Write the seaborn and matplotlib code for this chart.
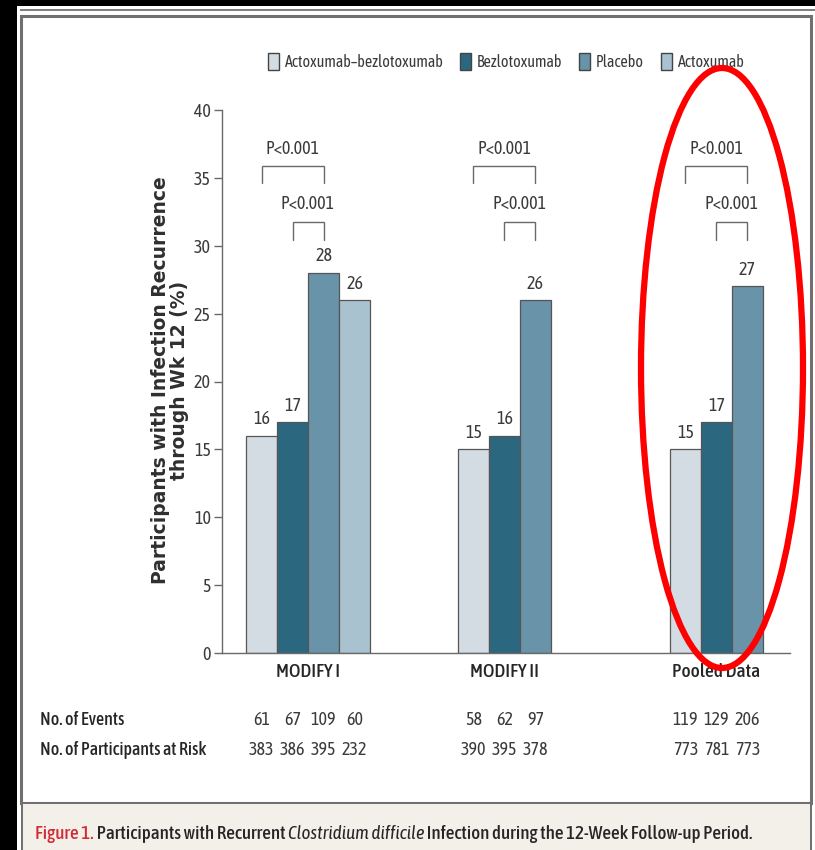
import numpy as np
import pandas as pd
import seaborn as sns
import matplotlib
matplotlib.use("Agg")
import matplotlib.pyplot as plt
from matplotlib.patches import Rectangle, Ellipse
from matplotlib.transforms import blended_transform_factory

# ---- data -------------------------------------------------------------
groups = ["MODIFY I", "MODIFY II", "Pooled Data"]
treatments = ["Actoxumab\u2013bezlotoxumab", "Bezlotoxumab", "Placebo", "Actoxumab"]

recurrence_modify1 = [16, 17, 28, 26]
recurrence_modify2 = [15, 16, 26]
recurrence_pooled = [15, 17, 27]

events_modify1 = [61, 67, 109, 60]
events_modify2 = [58, 62, 97]
events_pooled = [119, 129, 206]

at_risk_modify1 = [383, 386, 395, 232]
at_risk_modify2 = [390, 395, 378]
at_risk_pooled = [773, 781, 773]

y_ticks = [0, 5, 10, 15, 20, 25, 30, 35, 40]

colors = ["#d4dce3", "#2c6780", "#6893a8", "#a9c2d0"]

recurrence = [recurrence_modify1, recurrence_modify2, recurrence_pooled]
events = [events_modify1, events_modify2, events_pooled]
at_risk = [at_risk_modify1, at_risk_modify2, at_risk_pooled]

rows = []
for g, vals, ev, rk in zip(groups, recurrence, events, at_risk):
    for t, v, e, r in zip(treatments, vals, ev, rk):
        rows.append({"study": g, "treatment": t, "pct": v, "events": e, "at_risk": r})
df = pd.DataFrame(rows)

# ---- style ------------------------------------------------------------
sns.set_theme(style="white")
NARROW = ["Asap Condensed", "DejaVu Sans"]
plt.rcParams["font.family"] = NARROW
TXT = "#3a3a3a"
DARK = "#262626"
FS = 13

W, H = 815, 850
fig = plt.figure(figsize=(W / 100, H / 100), dpi=100)
fig.patch.set_facecolor("black")


def fx(px):
    return px / W


def fy(py):
    return 1 - py / H


def frect(x0, y0, x1, y1, **kw):
    fig.patches.append(Rectangle((fx(x0), fy(y1)), fx(x1) - fx(x0), fy(y0) - fy(y1),
                                 transform=fig.transFigure, zorder=-5, **kw))


# page frame
frect(17, 6, 815, 850, facecolor="white", edgecolor="none")
frect(20, 8.5, 815, 10.5, facecolor="#808080", edgecolor="none")
frect(21, 15.5, 811, 803, facecolor="white", edgecolor="#707070", linewidth=2.2)
frect(22, 803, 811, 850, facecolor="#f3f0ea", edgecolor="none")
frect(21, 801.5, 811, 804, facecolor="#707070", edgecolor="none")
frect(21, 803, 23, 850, facecolor="#707070", edgecolor="none")
frect(810, 803, 812, 850, facecolor="#707070", edgecolor="none")

# ---- axes -------------------------------------------------------------
ax = fig.add_axes([fx(222), fy(653), fx(790) - fx(222), fy(110) - fy(653)])
ax.set_facecolor("none")

sns.barplot(data=df, x="study", y="pct", hue="treatment", order=groups,
            hue_order=treatments, palette=colors, saturation=1, width=0.585,
            dodge=True, edgecolor="#555555", linewidth=0.9, errorbar=None,
            legend=False, ax=ax)

ax.set_xlim(-0.406, 2.274)
ax.set_ylim(0, 40)
ax.set_yticks(y_ticks)
ax.set_yticklabels([str(t) for t in y_ticks], fontsize=FS, color=TXT)
ax.set_xlabel("")
ax.set_ylabel("")
for s in ["top", "right"]:
    ax.spines[s].set_visible(False)
for s in ["left", "bottom"]:
    ax.spines[s].set_color("#6a6a6a")
    ax.spines[s].set_linewidth(1.0)
ax.tick_params(axis="y", length=6, width=1, color="#6a6a6a", pad=2, left=True)
ax.tick_params(axis="x", length=0)

# centres of the drawn bars, keyed by (study, treatment)
centers = {}
for t, cont in zip(treatments, ax.containers):
    for bar in cont:
        if bar.get_height() == 0 and bar.get_width() == 0:
            continue
        cx = bar.get_x() + bar.get_width() / 2
        centers[(groups[int(round(cx))], t)] = cx

# group labels below the axis, centred on each cluster
label_x = []
for g, vals in zip(groups, recurrence):
    xs = [centers[(g, t)] for t in treatments[:len(vals)]]
    label_x.append(np.mean(xs))
ax.set_xticks(label_x)
ax.set_xticklabels(groups, fontsize=14, color=DARK, fontweight="medium")
ax.tick_params(axis="x", pad=7)

# value labels
for g, vals in zip(groups, recurrence):
    for t, v in zip(treatments, vals):
        ax.text(centers[(g, t)], v + 0.55, str(v), ha="center", va="bottom",
                fontsize=FS, color=TXT)

# significance brackets
for g in groups:
    a, b, p = centers[(g, treatments[0])], centers[(g, treatments[1])], centers[(g, treatments[2])]
    for x0, top, low, ty in [(a, 35.85, 34.6, 36.5), (b, 31.75, 30.45, 32.4)]:
        ax.plot([x0, x0, p, p], [low, top, top, low], color="#6a6a6a", lw=1.0,
                solid_joinstyle="miter", clip_on=False)
        ax.text((x0 + p) / 2, ty, "P<0.001", ha="center", va="bottom",
                fontsize=FS, color=TXT)

# participant table under the axis
tr = blended_transform_factory(ax.transData, fig.transFigure)
for g, ev, rk in zip(groups, events, at_risk):
    for t, e, r in zip(treatments, ev, rk):
        ax.text(centers[(g, t)], fy(720), str(e), transform=tr, ha="center",
                va="center", fontsize=FS, color=TXT)
        ax.text(centers[(g, t)], fy(750), str(r), transform=tr, ha="center",
                va="center", fontsize=FS, color=TXT)
fig.text(fx(40), fy(720), "No. of Events", ha="left", va="center",
         fontsize=13, color=DARK, fontweight="medium")
fig.text(fx(40), fy(750), "No. of Participants at Risk", ha="left", va="center",
         fontsize=13, color=DARK, fontweight="medium")

# y-axis title
fig.text(fx(170), fy(380),
         "Participants with Infection Recurrence\nthrough Wk 12 (%)",
         rotation=90, ha="center", va="center", multialignment="center",
         fontsize=13.5, fontweight="bold", color="#2f2f2f",
         family=["DejaVu Sans"], linespacing=1.02)

# legend
handles = [Rectangle((0, 0), 1, 1, facecolor=c, edgecolor="#444444", linewidth=1.0)
           for c in colors]
fig.legend(handles, treatments, loc="center", bbox_to_anchor=(fx(506), fy(62)),
           ncol=4, frameon=False, fontsize=11.5, handlelength=0.7, handleheight=1.2,
           handletextpad=0.35, columnspacing=1.05, labelcolor=TXT)

# caption
cap_fs = 13.7
t1 = fig.text(fx(35), fy(843), "Figure 1.", ha="left", va="bottom",
              fontsize=cap_fs, color="#d42a33", fontweight="medium")
t2 = fig.text(0, 0, " Participants with Recurrent ", fontsize=cap_fs,
              color=DARK, fontweight="medium")
t3 = fig.text(0, 0, "Clostridium difficile", fontsize=cap_fs, color=DARK,
              style="italic")
t4 = fig.text(0, 0, " Infection during the 12-Week Follow-up Period.",
              fontsize=cap_fs, color=DARK, fontweight="medium")
fig.canvas.draw()
r = fig.canvas.get_renderer()
prev = t1
for t in (t2, t3, t4):
    bb = prev.get_window_extent(r).transformed(fig.transFigure.inverted())
    t.set_position((bb.x1, fy(843)))
    t.set_va("bottom")
    t.set_ha("left")
    prev = t

# highlight ring around the pooled results
fig.patches.append(Ellipse((fx(722), fy(368)), fx(162), 600 / H, fill=False,
                           edgecolor="#ff0000", linewidth=4.5,
                           transform=fig.transFigure, zorder=10))

fig.savefig("out.png", dpi=100, facecolor=fig.get_facecolor())
